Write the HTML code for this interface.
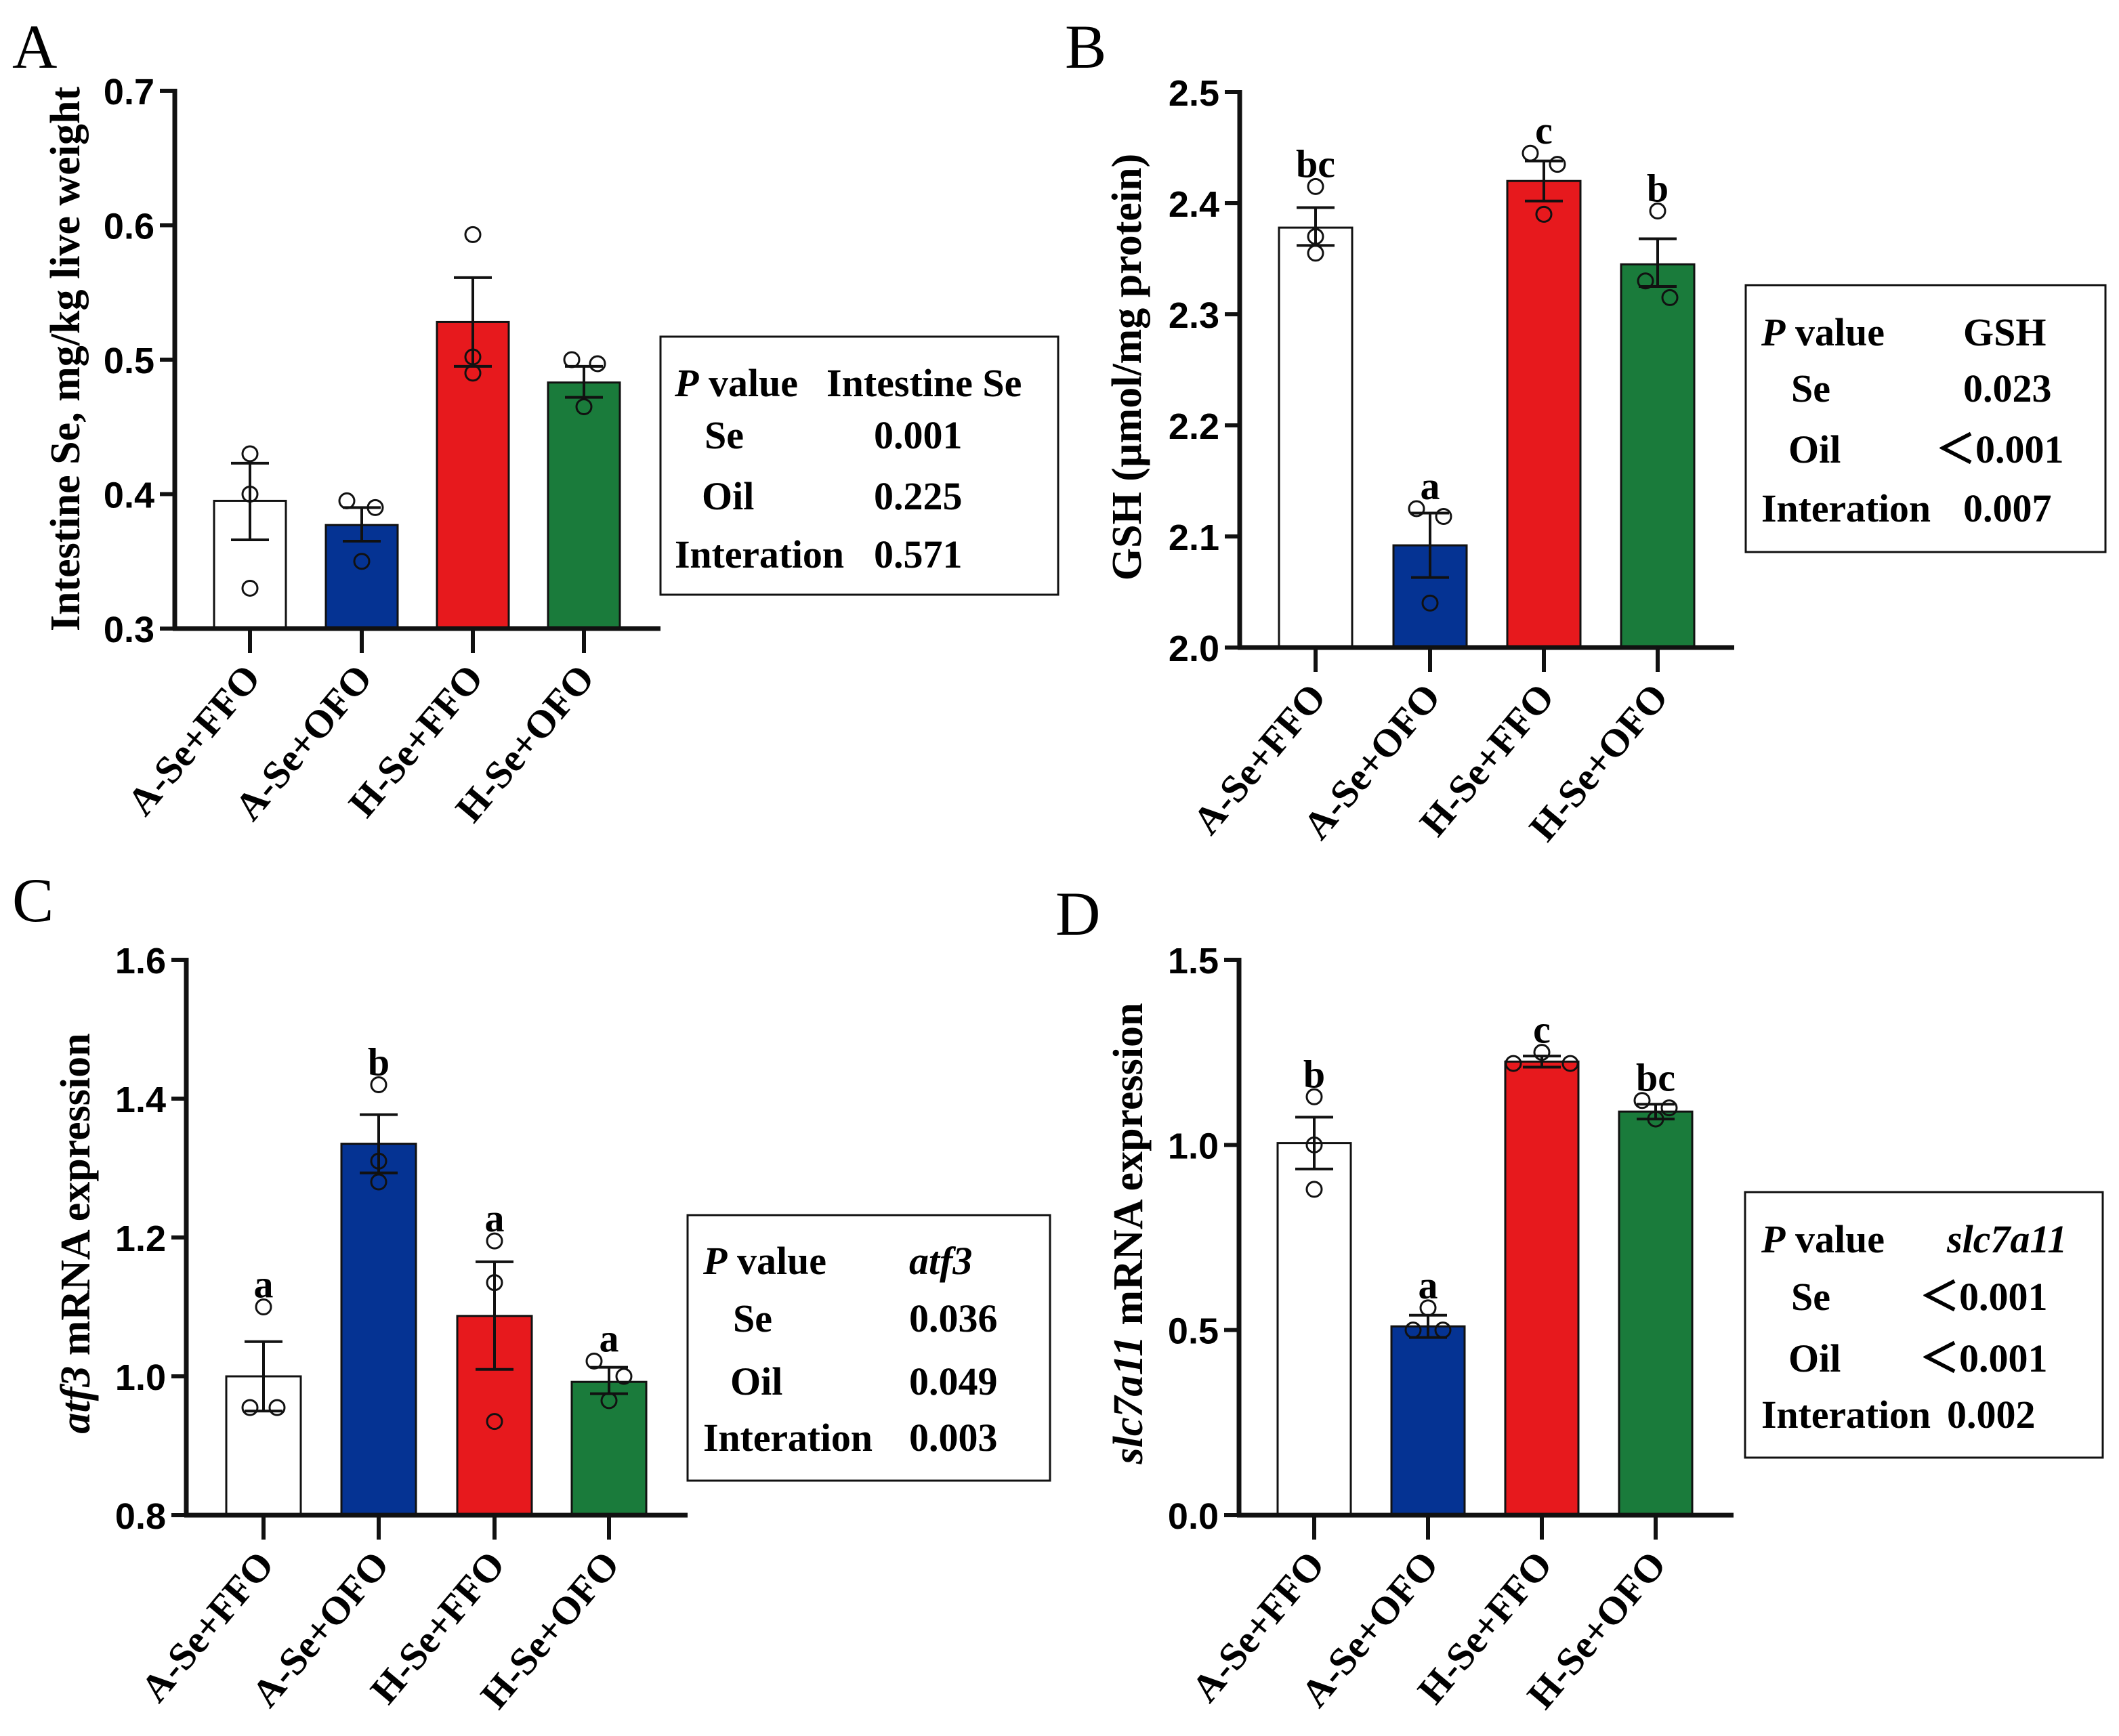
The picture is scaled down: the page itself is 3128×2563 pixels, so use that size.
<!DOCTYPE html>
<html><head><meta charset="utf-8"><style>
html,body{margin:0;padding:0;background:#fff;}
svg{display:block;}
.tick{font-family:"Liberation Sans",sans-serif;font-weight:bold;font-size:54px;}
.ser{font-family:"Liberation Serif",serif;font-weight:bold;}
</style></head><body>
<svg id="fig" width="3128" height="2563" viewBox="0 0 3128 2563" xmlns="http://www.w3.org/2000/svg"></svg>
<script>
const categories = ["A-Se+FFO","A-Se+OFO","H-Se+FFO","H-Se+OFO"];
const colors = ["#ffffff","#053393","#e7191d","#1a7b3b"];
// Panel A
const aMeans = [0.395,0.377,0.528,0.483];
const aSemLo = [0.366,0.365,0.495,0.472];
const aSemHi = [0.423,0.390,0.561,0.495];
const aPoints = [[0.430,0.400,0.330],[0.395,0.390,0.350],[0.593,0.502,0.490],[0.500,0.497,0.465]];
const aTicks = [0.3,0.4,0.5,0.6,0.7];
const aTickLabels = ["0.3","0.4","0.5","0.6","0.7"];
const aLetters = ["","","",""];
const aPRows = [["Se","0.001"],["Oil","0.225"],["Interation","0.571"]];
// Panel B
const bMeans = [2.378,2.092,2.420,2.345];
const bSemLo = [2.362,2.063,2.402,2.325];
const bSemHi = [2.396,2.121,2.438,2.368];
const bPoints = [[2.415,2.370,2.355],[2.125,2.118,2.040],[2.445,2.435,2.390],[2.393,2.330,2.315]];
const bTicks = [2.0,2.1,2.2,2.3,2.4,2.5];
const bTickLabels = ["2.0","2.1","2.2","2.3","2.4","2.5"];
const bLetters = ["bc","a","c","b"];
const bPRows = [["Se","0.023"],["Oil","\uFF1C0.001"],["Interation","0.007"]];
// Panel C
const cMeans = [1.000,1.335,1.087,0.992];
const cSemLo = [0.950,1.293,1.010,0.975];
const cSemHi = [1.050,1.377,1.165,1.013];
const cPoints = [[1.100,0.955,0.955],[1.420,1.310,1.280],[1.195,1.135,0.935],[1.022,1.000,0.965]];
const cTicks = [0.8,1.0,1.2,1.4,1.6];
const cTickLabels = ["0.8","1.0","1.2","1.4","1.6"];
const cLetters = ["a","b","a","a"];
const cPRows = [["Se","0.036"],["Oil","0.049"],["Interation","0.003"]];
// Panel D
const dMeans = [1.005,0.510,1.225,1.090];
const dSemLo = [0.935,0.480,1.210,1.070];
const dSemHi = [1.075,0.540,1.240,1.110];
const dPoints = [[1.130,1.000,0.880],[0.560,0.500,0.500],[1.250,1.220,1.220],[1.120,1.100,1.070]];
const dTicks = [0.0,0.5,1.0,1.5];
const dTickLabels = ["0.0","0.5","1.0","1.5"];
const dLetters = ["b","a","c","bc"];
const dPRows = [["Se","\uFF1C0.001"],["Oil","\uFF1C0.001"],["Interation","0.002"]];

const NS="http://www.w3.org/2000/svg";
const svg=document.getElementById('fig');
function mk(tag,attrs,parent,text){const e=document.createElementNS(NS,tag);for(const k in attrs)e.setAttribute(k,attrs[k]);if(text!==undefined)e.textContent=text;(parent||svg).appendChild(e);return e;}

const panels=[
 {id:'a',letter:'A',lx:18,ly:100,ax:258,x1:975,ytop:134,ybot:928,min:0.3,max:0.7,cx:[369,534,698,862],bw:106,
  means:aMeans,lo:aSemLo,hi:aSemHi,pts:aPoints,ticks:aTicks,tl:aTickLabels,letters:aLetters,
  title:[["Intestine Se, mg/kg live weight",false]],tx:95,ty:530,
  box:[975,497,1562,878],rows:aPRows,head:"Intestine Se",headItalic:false,colL:996,colV:1290,rowY:[565,642,732,818]},
 {id:'b',letter:'B',lx:1572,ly:100,ax:1830,x1:2560,ytop:136,ybot:956,min:2.0,max:2.5,cx:[1942,2111,2279,2447],bw:108,
  means:bMeans,lo:bSemLo,hi:bSemHi,pts:bPoints,ticks:bTicks,tl:bTickLabels,letters:bLetters,
  title:[["GSH (\u00B5mol/mg protein)",false]],tx:1662,ty:542,
  box:[2577,421,3108,815],rows:bPRows,head:"GSH",headItalic:false,colL:2600,colV:2898,rowY:[490,573,663,750]},
 {id:'c',letter:'C',lx:18,ly:1360,ax:275,x1:1015,ytop:1417,ybot:2237,min:0.8,max:1.6,cx:[389,559,730,899],bw:110,
  means:cMeans,lo:cSemLo,hi:cSemHi,pts:cPoints,ticks:cTicks,tl:cTickLabels,letters:cLetters,
  title:[["atf3",true],[" mRNA expression",false]],tx:110,ty:1821,
  box:[1015,1794,1550,2186],rows:cPRows,head:"atf3",headItalic:true,colL:1038,colV:1342,rowY:[1861,1946,2039,2122]},
 {id:'d',letter:'D',lx:1558,ly:1380,ax:1829,x1:2559,ytop:1417,ybot:2237,min:0.0,max:1.5,cx:[1940,2108,2276,2444],bw:108,
  means:dMeans,lo:dSemLo,hi:dSemHi,pts:dPoints,ticks:dTicks,tl:dTickLabels,letters:dLetters,
  title:[["slc7a11",true],[" mRNA expression",false]],tx:1664,ty:1821,
  box:[2576,1760,3104,2152],rows:dPRows,head:"slc7a11",headItalic:true,colL:2600,colV:2874,rowY:[1829,1914,2005,2088]}
];
const jit={a:[[0,0,0],[-22,20,0],[0,0,0],[-18,20,0]],
 b:[[0,0,0],[-20,20,0],[-20,20,0],[0,-18,18]],
 c:[[0,-20,20],[0,0,0],[0,0,0],[-22,22,0]],
 d:[[0,0,0],[0,-22,22],[0,-42,42],[-20,20,0]]};

panels.forEach(p=>{
 const g=mk('g',{});
 
 
 const y=v=>p.ybot-(v-p.min)/(p.max-p.min)*(p.ybot-p.ytop);
 const pl=mk('text',{x:p.lx,y:p.ly,'font-family':'Liberation Serif, serif','font-size':92},g,p.letter);
 
 
 p.means.forEach((m,i)=>{
  const r=mk('rect',{x:p.cx[i]-p.bw/2,y:y(m),width:p.bw,height:p.ybot-y(m),fill:colors[i],stroke:'#111','stroke-width':3},g);
  
  
 });
 p.means.forEach((m,i)=>{
  const eg=mk('g',{stroke:'#111','stroke-width':4,fill:'none'},g);
  
  
  mk('line',{x1:p.cx[i],x2:p.cx[i],y1:y(p.lo[i]),y2:y(p.hi[i])},eg);
  mk('line',{x1:p.cx[i]-28,x2:p.cx[i]+28,y1:y(p.lo[i]),y2:y(p.lo[i])},eg);
  mk('line',{x1:p.cx[i]-28,x2:p.cx[i]+28,y1:y(p.hi[i]),y2:y(p.hi[i])},eg);
 });
 p.pts.forEach((arr,i)=>{arr.forEach((v,k)=>{
  const c=mk('circle',{cx:p.cx[i]+jit[p.id][i][k],cy:y(v),r:11,fill:'none',stroke:'#111','stroke-width':3},g);
  
  
 });});
 p.letters.forEach((L,i)=>{ if(!L)return;
  const top=Math.min(y(p.hi[i]),...p.pts[i].map(y))-14;
  const t=mk('text',{x:p.cx[i],y:top,'text-anchor':'middle','class':'ser','font-size':58},g,L);
  
  
 });
 const ya=mk('line',{x1:p.ax,x2:p.ax,y1:p.ytop-3,y2:p.ybot+3,stroke:'#111','stroke-width':7},g);
 
 
 const xa=mk('line',{x1:p.ax-3,x2:p.x1,y1:p.ybot,y2:p.ybot,stroke:'#111','stroke-width':7},g);
 
 
 p.ticks.forEach((t,i)=>{
  mk('line',{x1:p.ax-22,x2:p.ax,y1:y(t),y2:y(t),stroke:'#111','stroke-width':6},g);
  const tl=mk('text',{x:p.ax-30,y:y(t)+20,'text-anchor':'end','class':'tick'},g,p.tl[i]);
  
  
 });
 categories.forEach((c,i)=>{
  mk('line',{x1:p.cx[i],x2:p.cx[i],y1:p.ybot,y2:p.ybot+36,stroke:'#111','stroke-width':6},g);
  const ax=p.cx[i]+18, ay=p.ybot+74;
  const t=mk('text',{x:ax,y:ay,'text-anchor':'end','class':'ser','font-size':58,transform:`rotate(-50 ${ax} ${ay})`},g,c);
  
  
 });
 const tt=mk('text',{x:p.tx,y:p.ty,'text-anchor':'middle','class':'ser','font-size':62,transform:`rotate(-90 ${p.tx} ${p.ty}) translate(0 22)`},g);
 
 
 p.title.forEach(([s,it])=>{mk('tspan',it?{'font-style':'italic'}:{},tt,s);});
 const bg=mk('g',{},g);
 
 
 const [bx0,by0,bx1,by1]=p.box;
 mk('rect',{x:bx0,y:by0,width:bx1-bx0,height:by1-by0,fill:'#fff',stroke:'#111','stroke-width':3},bg);
 const fs=58;
 const h=mk('text',{x:p.colL,y:p.rowY[0]+20,'class':'ser','font-size':fs},bg);
 mk('tspan',{'font-style':'italic'},h,'P');
 mk('tspan',{},h,' value');
 mk('text',{x:p.colV+(p.id==='a'?-70:0),y:p.rowY[0]+20,'class':'ser','font-size':fs,'font-style':p.headItalic?'italic':'normal'},bg,p.head);
 p.rows.forEach((r,k)=>{
  const ry=p.rowY[k+1]+20;
  const lt=mk('text',{x:r[0]==='Interation'?p.colL:p.colL+(r[0]==='Se'?44:40),y:ry,'class':'ser','font-size':fs},bg,r[0]);
  if(r[0]==='Interation') lt.setAttribute('textLength','250');
  const isLt=r[1].charAt(0)==='\uFF1C';
  mk('text',{x:isLt?p.colV-40:p.colV,y:ry,'class':'ser','font-size':fs},bg,r[1]);
 });
});
</script>
</body></html>
